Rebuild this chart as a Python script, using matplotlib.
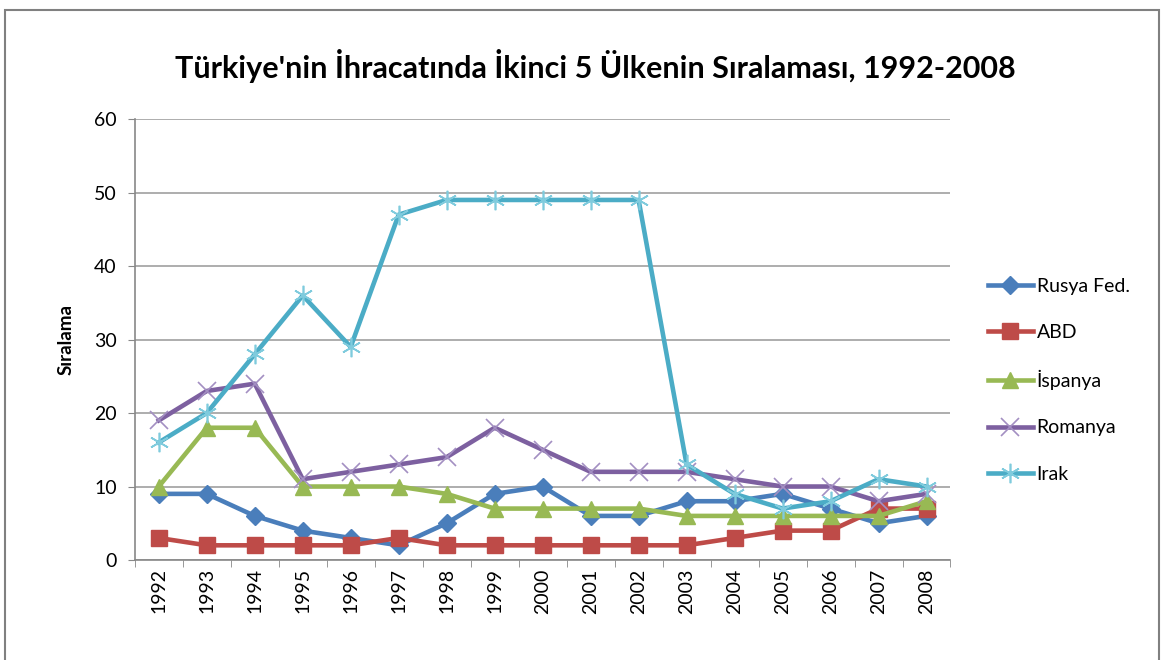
import numpy as np
import matplotlib.pyplot as plt
from matplotlib.patches import Rectangle

years = [str(y) for y in range(1992, 2009)]
rusya = [9, 9, 6, 4, 3, 2, 5, 9, 10, 6, 6, 8, 8, 9, 7, 5, 6]
abd = [3, 2, 2, 2, 2, 3, 2, 2, 2, 2, 2, 2, 3, 4, 4, 7, 7]
ispanya = [10, 18, 18, 10, 10, 10, 9, 7, 7, 7, 7, 6, 6, 6, 6, 6, 8]
romanya = [19, 23, 24, 11, 12, 13, 14, 18, 15, 12, 12, 12, 11, 10, 10, 8, 9]
irak = [16, 20, 28, 36, 29, 47, 49, 49, 49, 49, 49, 13, 9, 7, 8, 11, 10]

plt.rcParams['font.family'] = ['Lato', 'DejaVu Sans']

fig = plt.figure(figsize=(11.72, 6.6), dpi=100)
ax = fig.add_axes([0.115, 0.1515, 0.696, 0.668])

x = np.arange(len(years))
lw = 3.3
ax.plot(x, rusya, color='#4A7EBB', lw=lw, marker='D', ms=9.5, label='Rusya Fed.')
ax.plot(x, abd, color='#BE4B48', lw=lw, marker='s', ms=12, label='ABD')
ax.plot(x, ispanya, color='#98B954', lw=lw, marker='^', ms=12, label='İspanya')
ax.plot(x, romanya, color='#7D60A0', lw=lw, marker='x', ms=13, mew=1.2,
        mec='#A38FC2', label='Romanya')
ax.plot(x, irak, color='#4BACC6', lw=lw, marker=(6, 2, 0), ms=14, mew=1.2,
        mec='#7FCBDD', label='Irak')

ax.set_xlim(-0.5, len(years) - 0.5)
ax.set_ylim(0, 60)
ax.set_yticks(range(0, 61, 10))
ax.set_xticks(x)
ax.set_xticklabels(years, rotation=90, fontsize=14)
ax.set_xticks(np.arange(-0.5, len(years), 1), minor=True)
ax.tick_params(axis='x', which='major', length=0, pad=6)
ax.tick_params(axis='x', which='minor', length=5, color='#888888')
ax.tick_params(axis='y', labelsize=14, length=5, color='#888888', pad=8)
ax.grid(axis='y', color='#A0A0A0', lw=1.2)
ax.set_axisbelow(True)
for s in ['top', 'right']:
    ax.spines[s].set_visible(False)
for s in ['left', 'bottom']:
    ax.spines[s].set_color('#888888')
    ax.spines[s].set_linewidth(1.2)

ax.set_ylabel('Sıralama', fontsize=13.5, fontweight='bold', labelpad=14)
fig.text(0.508, 0.9, "Türkiye'nin İhracatında İkinci 5 Ülkenin Sıralaması, 1992-2008",
         ha='center', va='center', fontsize=22, fontweight='bold')

fig.legend(loc='center left', bbox_to_anchor=(0.828, 0.424), frameon=False,
           fontsize=14, labelspacing=1.5, handlelength=2.3, handletextpad=0.2)

fig.patches.append(Rectangle((0.004, -0.01), 0.985, 0.995, transform=fig.transFigure,
                             fill=False, edgecolor='#808080', lw=1.5))

fig.savefig('out.png', dpi=100)
